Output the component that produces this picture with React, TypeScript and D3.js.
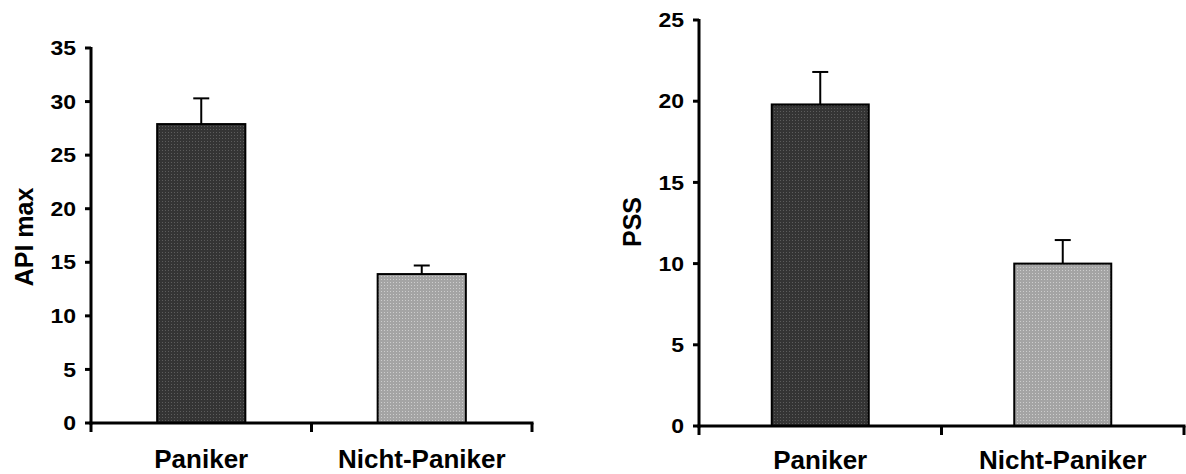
import React from "react";
import * as d3 from "d3";

const categories = ["Paniker", "Nicht-Paniker"];
const apiMeans = [27.9, 13.9];
const apiErrors = [2.4, 0.8];
const pssMeans = [19.8, 10.0];
const pssErrors = [2.0, 1.45];
const apiTicks = [0, 5, 10, 15, 20, 25, 30, 35];
const pssTicks = [0, 5, 10, 15, 20, 25];

const FONT = "'Liberation Sans', Arial, sans-serif";
const fills = ["url(#dotsDark)", "url(#dotsLight)"];

type PanelProps = {
  means: number[];
  errors: number[];
  ticks: number[];
  yMax: number;
  x0: number;
  x1: number;
  y0: number;
  y1: number;
  title: string;
  titleX: number;
  titleY: number;
  labelY: number;
};

function Panel(p: PanelProps) {
  const x = d3.scaleBand<string>().domain(categories).range([p.x0, p.x1]).paddingInner(0).paddingOuter(0);
  const y = d3.scaleLinear().domain([0, p.yMax]).range([p.y0, p.y1]);
  const bw = x.bandwidth() * 0.4;
  const capW = 16;
  return (
    <g>
      {categories.map((c, i) => {
        const cx = (x(c) as number) + x.bandwidth() / 2;
        const top = y(p.means[i]);
        const et = y(p.means[i] + p.errors[i]);
        return (
          <g key={c}>
            <line x1={cx} x2={cx} y1={top} y2={et} stroke="#000" strokeWidth={2} />
            <line x1={cx - capW / 2} x2={cx + capW / 2} y1={et} y2={et} stroke="#000" strokeWidth={2} />
            <rect x={cx - bw / 2} y={top} width={bw} height={y(0) - top} fill={fills[i]} stroke="#000" strokeWidth={2} />
            <text x={cx} y={p.labelY} textAnchor="middle" fontFamily={FONT} fontWeight="bold" fontSize={26} fill="#000">
              {c}
            </text>
          </g>
        );
      })}
      {/* y axis */}
      <line x1={p.x0} x2={p.x0} y1={y(p.yMax) - 1} y2={y(0) + 1.5} stroke="#000" strokeWidth={3} />
      {p.ticks.map((t) => (
        <g key={t}>
          <line x1={p.x0 - 6} x2={p.x0} y1={y(t)} y2={y(t)} stroke="#000" strokeWidth={3} />
          <text
            transform={`translate(${p.x0 - 15},${y(t)}) scale(1.15,1)`}
            dy="0.36em"
            textAnchor="end"
            fontFamily={FONT}
            fontWeight="bold"
            fontSize={20}
            fill="#000"
          >
            {t}
          </text>
        </g>
      ))}
      {/* x axis */}
      <line x1={p.x0 - 1.5} x2={p.x1 + 1.5} y1={y(0)} y2={y(0)} stroke="#000" strokeWidth={3} />
      {[p.x0, ...categories.map((c) => (x(c) as number) + x.bandwidth())].map((v, i) => (
        <line key={i} x1={v} x2={v} y1={y(0)} y2={y(0) + 9} stroke="#000" strokeWidth={3} />
      ))}
      <text
        transform={`translate(${p.titleX},${p.titleY}) rotate(-90)`}
        textAnchor="middle"
        dy="0.36em"
        fontFamily={FONT}
        fontWeight="bold"
        fontSize={25}
        fill="#000"
      >
        {p.title}
      </text>
    </g>
  );
}

export default function App() {
  return (
    <svg width={1186} height={474} style={{ position: "absolute", left: 0, top: 0, background: "#fff" }}>
      <defs>
        <pattern id="dotsDark" width={3} height={3} patternUnits="userSpaceOnUse">
          <rect width={3} height={3} fill="#343434" />
          <rect width={1} height={1} fill="#5c5c5c" />
        </pattern>
        <pattern id="dotsLight" width={3} height={3} patternUnits="userSpaceOnUse">
          <rect width={3} height={3} fill="#a4a4a4" />
          <rect width={1} height={1} fill="#cdcdcd" />
        </pattern>
      </defs>
      <rect width={1186} height={474} fill="#fff" />
      <Panel
        means={apiMeans}
        errors={apiErrors}
        ticks={apiTicks}
        yMax={35}
        x0={91}
        x1={532}
        y0={423}
        y1={48}
        title="API max"
        titleX={24}
        titleY={237}
        labelY={468}
      />
      <Panel
        means={pssMeans}
        errors={pssErrors}
        ticks={pssTicks}
        yMax={25}
        x0={699}
        x1={1184}
        y0={426}
        y1={20}
        title="PSS"
        titleX={632}
        titleY={222}
        labelY={469}
      />
    </svg>
  );
}
